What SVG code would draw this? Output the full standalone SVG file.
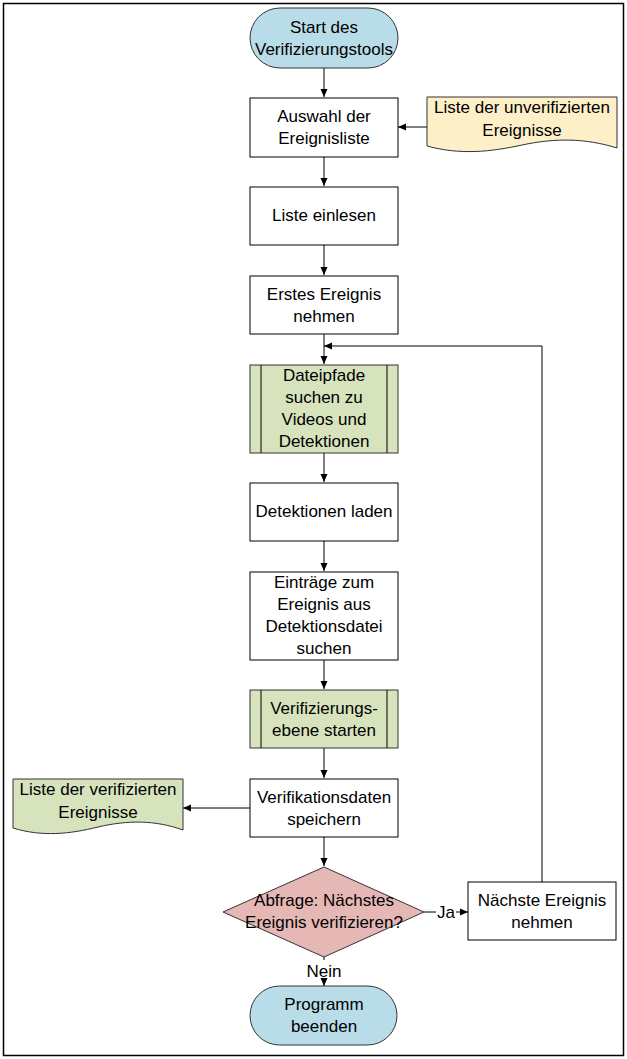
<svg xmlns="http://www.w3.org/2000/svg" width="627" height="1059" viewBox="0 0 627 1059">
<defs>
<marker id="ah" viewBox="0 0 8 8" refX="8" refY="4" markerWidth="8" markerHeight="8" markerUnits="userSpaceOnUse" orient="auto">
<path d="M0,0.5 L8,4 L0,7.5 Z" fill="#000"/>
</marker>
<style>
text{font-family:"Liberation Sans",Arial,sans-serif;font-size:17px;fill:#000;text-anchor:middle}
.box{fill:#fff;stroke:#000;stroke-width:1}
.term{fill:#b9dde8;stroke:#333;stroke-width:1}
.sub{fill:#d6e3bd;stroke:#333;stroke-width:1}
.docy{fill:#fdefc8;stroke:#333;stroke-width:1}
.docg{fill:#d6e3bd;stroke:#333;stroke-width:1}
.dec{fill:#e5b8b5;stroke:#333;stroke-width:1}
.c{fill:none;stroke:#000;stroke-width:1}
</style>
</defs>
<rect x="3.5" y="3.5" width="620" height="1052" fill="#fff" stroke="#000" stroke-width="1.5"/>
<g id="connectors">
<path class="c" d="M324,68 V97" marker-end="url(#ah)"/>
<path class="c" d="M427,127 H398" marker-end="url(#ah)"/>
<path class="c" d="M324,157 V186" marker-end="url(#ah)"/>
<path class="c" d="M324,245 V275" marker-end="url(#ah)"/>
<path class="c" d="M324,334 V364" marker-end="url(#ah)"/>
<path class="c" d="M542,882 V346 H324" marker-end="url(#ah)"/>
<path class="c" d="M324,453 V482" marker-end="url(#ah)"/>
<path class="c" d="M324,541 V571" marker-end="url(#ah)"/>
<path class="c" d="M324,660 V689" marker-end="url(#ah)"/>
<path class="c" d="M324,748 V778" marker-end="url(#ah)"/>
<path class="c" d="M250,808 H183" marker-end="url(#ah)"/>
<path class="c" d="M324,837 V866" marker-end="url(#ah)"/>
<path class="c" d="M424,912 H436 M456,912 H468" marker-end="url(#ah)"/>
<text x="446" y="918">Ja</text>
<path class="c" d="M324,957 V960 M324,981 V986" marker-end="url(#ah)"/>
<text x="324" y="977">Nein</text>
</g>
<g id="start">
<rect class="term" x="250" y="8" width="148" height="60" rx="30"/>
<text x="324" y="33">Start des</text>
<text x="324" y="55">Verifizierungstools</text>
</g>
<g id="auswahl">
<rect class="box" x="250" y="98" width="148" height="59"/>
<text x="324" y="122">Auswahl der</text>
<text x="324" y="144">Ereignisliste</text>
</g>
<g id="unverifiziert">
<path class="docy" d="M427,97 H617 V148 C585,138 555,138 522,145 C490,152 460,155 427,146 Z"/>
<text x="522" y="113">Liste der unverifizierten</text>
<text x="522" y="136">Ereignisse</text>
</g>
<g id="einlesen">
<rect class="box" x="250" y="187" width="148" height="58"/>
<text x="324" y="221">Liste einlesen</text>
</g>
<g id="erstes">
<rect class="box" x="250" y="276" width="148" height="58"/>
<text x="324" y="300">Erstes Ereignis</text>
<text x="324" y="322">nehmen</text>
</g>
<g id="dateipfade">
<rect class="sub" x="250" y="365" width="148" height="88"/>
<path class="c" d="M261,365 V453 M387,365 V453"/>
<text x="324" y="381">Dateipfade</text>
<text x="324" y="403">suchen zu</text>
<text x="324" y="425">Videos und</text>
<text x="324" y="447">Detektionen</text>
</g>
<g id="laden">
<rect class="box" x="250" y="483" width="148" height="58"/>
<text x="324" y="517">Detektionen laden</text>
</g>
<g id="eintraege">
<rect class="box" x="250" y="572" width="148" height="88"/>
<text x="324" y="588">Einträge zum</text>
<text x="324" y="610">Ereignis aus</text>
<text x="324" y="632">Detektionsdatei</text>
<text x="324" y="654">suchen</text>
</g>
<g id="ebene">
<rect class="sub" x="250" y="690" width="148" height="58"/>
<path class="c" d="M261,690 V748 M387,690 V748"/>
<text x="324" y="714">Verifizierungs-</text>
<text x="324" y="736">ebene starten</text>
</g>
<g id="speichern">
<rect class="box" x="250" y="779" width="148" height="58"/>
<text x="324" y="803">Verifikationsdaten</text>
<text x="324" y="825">speichern</text>
</g>
<g id="verifiziert">
<path class="docg" d="M13,779 H183 V830 C155,820 128,820 98,827 C70,834 42,837 13,828 Z"/>
<text x="98" y="795">Liste der verifizierten</text>
<text x="98" y="818">Ereignisse</text>
</g>
<g id="abfrage">
<path class="dec" d="M324,867 L424,912 L324,957 L223,912 Z"/>
<text x="324" y="906">Abfrage: Nächstes</text>
<text x="324" y="928">Ereignis verifizieren?</text>
</g>
<g id="naechste">
<rect class="box" x="468" y="882" width="148" height="58"/>
<text x="542" y="906">Nächste Ereignis</text>
<text x="542" y="928">nehmen</text>
</g>
<g id="ende">
<rect class="term" x="250" y="986" width="147" height="59" rx="29.5"/>
<text x="324" y="1010">Programm</text>
<text x="324" y="1032">beenden</text>
</g>
</svg>
